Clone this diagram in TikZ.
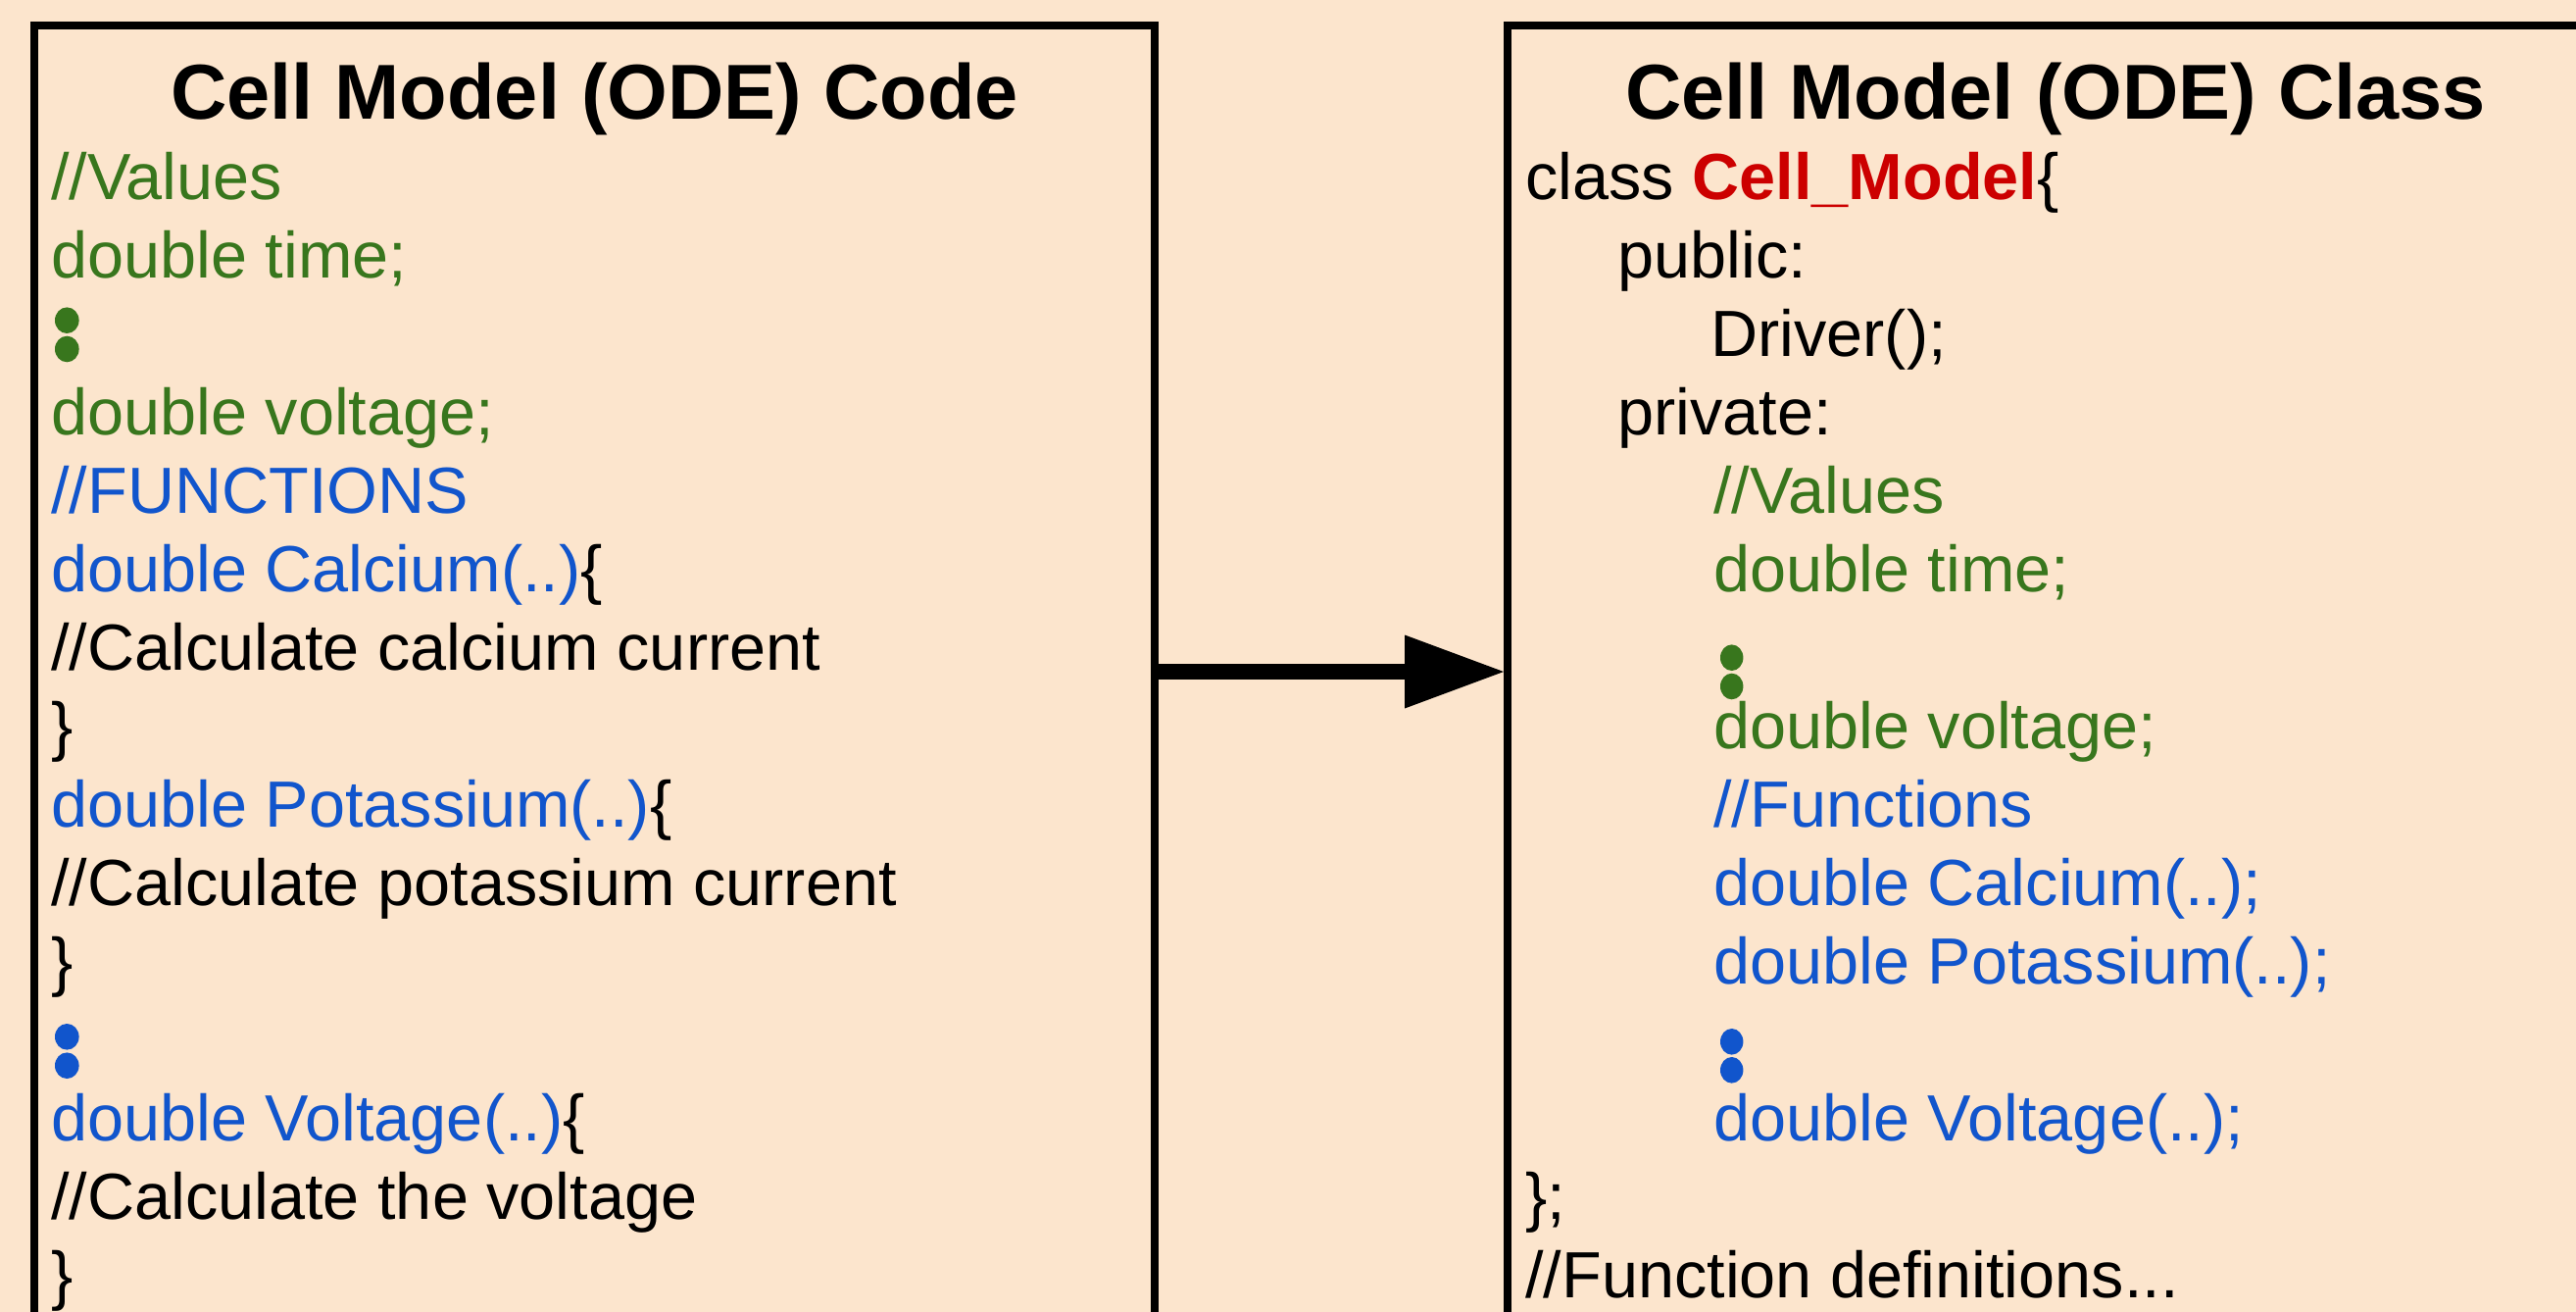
\documentclass[tikz,border=0pt]{standalone}
\usepackage{fontspec}
\setmainfont{Liberation Sans}
\usetikzlibrary{arrows.meta}
\definecolor{bgc}{HTML}{FCE5CD}
\definecolor{cgreen}{HTML}{38761D}
\definecolor{cblue}{HTML}{1155CC}
\definecolor{cred}{HTML}{CC0000}
\newcommand\mycodefont{\fontsize{33.3pt}{40pt}\selectfont}
\newcommand\mytitlefont{\fontsize{39.7pt}{48pt}\selectfont\bfseries}
\begin{document}
\begin{tikzpicture}[x=0.5pt,y=-0.5pt,
  panel/.style={draw=black, line width=4pt, fill=none, rectangle, inner sep=0pt,
                minimum width=#1, minimum height=659pt},
  paneltitle/.style={anchor=base, inner sep=0pt, font=\mytitlefont},
  code/.style={anchor=base west, inner sep=0pt, font=\mycodefont, text=black},
  gcode/.style={code, text=cgreen},
  bcode/.style={code, text=cblue},
  gdot/.style={fill=cgreen},
  bdot/.style={fill=cblue},
  bigarrow/.style={line width=8pt, -{Triangle[length=50.5pt, width=37.5pt, line width=0pt]}}
]
\useasboundingbox (0,0) rectangle (2628,1338);
\fill[bgc] (0,0) rectangle (2628,1338);

% panels
\node[panel=571.5pt] (lbox) at (606.5,685) {};
\node[panel=571pt] (rbox) at (2109,685) {};

% titles
\node[paneltitle] (ltitle) at (606.5,121) {Cell Model (ODE) Code};
\node[paneltitle] (rtitle) at (2097,121) {Cell Model (ODE) Class};

% left code
\node[gcode] (l1) at (52,203) {//Values};
\node[gcode] (l2) at (52,283) {double time;};
\fill[gdot] (68.3,326.7) ellipse [x radius=12.3, y radius=13.3];
\fill[gdot] (68.3,356) ellipse [x radius=12.3, y radius=13.3];
\node[gcode] (l4) at (52,443) {double voltage;};
\node[bcode] (l5) at (52,523) {//FUNCTIONS};
\node[bcode] (l6) at (52,603) {double Calcium(..)\textcolor{black}{\{}};
\node[code] (l7) at (52,683) {//Calculate calcium current};
\node[code] (l8) at (52,763) {\}};
\node[bcode] (l9) at (52,843) {double Potassium(..)\textcolor{black}{\{}};
\node[code] (l10) at (52,923) {//Calculate potassium current};
\node[code] (l11) at (52,1003) {\}};
\fill[bdot] (68.3,1057.3) ellipse [x radius=12.3, y radius=13.3];
\fill[bdot] (68.3,1086.7) ellipse [x radius=12.3, y radius=13.3];
\node[bcode] (l13) at (52,1163) {double Voltage(..)\textcolor{black}{\{}};
\node[code] (l14) at (52,1243) {//Calculate the voltage};
\node[code] (l15) at (52,1323) {\}};

% right code
\node[code] (r1) at (1556,203) {class \textcolor{cred}{\bfseries Cell\_Model}\{};
\node[code] (r2) at (1650,283) {public:};
\node[code] (r3) at (1745,363) {Driver();};
\node[code] (r4) at (1650,443) {private:};
\node[gcode] (r5) at (1748,523) {//Values};
\node[gcode] (r6) at (1748,603) {double time;};
\fill[gdot] (1766.7,670.7) ellipse [x radius=11.7, y radius=13.3];
\fill[gdot] (1766.7,700) ellipse [x radius=11.7, y radius=13.3];
\node[gcode] (r7) at (1748,763) {double voltage;};
\node[bcode] (r8) at (1748,843) {//Functions};
\node[bcode] (r9) at (1748,923) {double Calcium(..);};
\node[bcode] (r10) at (1748,1003) {double Potassium(..);};
\fill[bdot] (1766.7,1062.3) ellipse [x radius=11.7, y radius=13.3];
\fill[bdot] (1766.7,1091.3) ellipse [x radius=11.7, y radius=13.3];
\node[bcode] (r11) at (1748,1163) {double Voltage(..);};
\node[code] (r12) at (1556,1243) {\};};
\node[code] (r13) at (1556,1323) {//Function definitions...};

% connector
\draw[bigarrow] (lbox.east) -- (rbox.west);
\end{tikzpicture}
\end{document}
